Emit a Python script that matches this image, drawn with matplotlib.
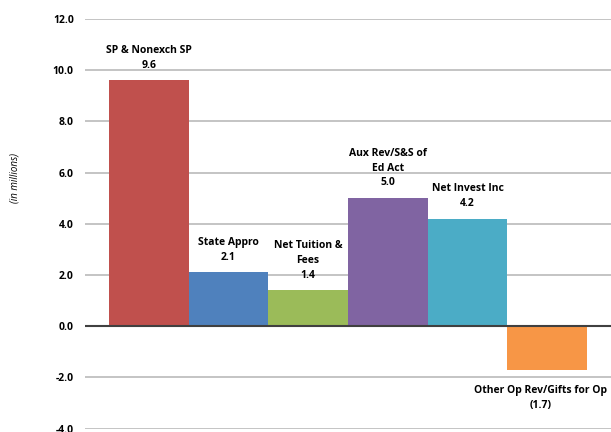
import matplotlib.pyplot as plt

categories = ["SP & Nonexch SP", "State Appro", "Net Tuition &\nFees",
              "Aux Rev/S&S of\nEd Act", "Net Invest Inc", "Other Op Rev/Gifts for Op"]
values = [9.6, 2.1, 1.4, 5.0, 4.2, -1.7]
value_labels = ["9.6", "2.1", "1.4", "5.0", "4.2", "(1.7)"]
colors = ["#C0504D", "#4F81BD", "#9BBB59", "#8064A2", "#4BACC6", "#F79646"]
yticks = [-4, -2, 0, 2, 4, 6, 8, 10, 12]

plt.rcParams['font.family'] = ['Open Sans', 'DejaVu Sans']

fig = plt.figure(figsize=(6.11, 4.32), dpi=100)
ax = fig.add_axes([0.139, 0.008, 0.861, 0.948])

x = range(len(values))
ax.bar(x, values, width=1.0, color=colors, zorder=3)

# gridlines and zero line
for t in yticks:
    if t == 0:
        ax.axhline(0, color="#404040", lw=1.5, zorder=4)
    else:
        ax.axhline(t, color="#BFBFBF", lw=1.3, zorder=1)

ax.set_xlim(-0.8, 5.8)
ax.set_ylim(-4, 12)
ax.set_yticks(yticks)
ax.set_yticklabels([f"{t:.1f}" for t in yticks], fontsize=7.5, fontweight="bold")
ax.tick_params(axis="y", length=0, pad=8)
ax.set_xticks([])
for s in ax.spines.values():
    s.set_visible(False)

# labels above positive bars, below the negative one
for i, (cat, v, lab) in enumerate(zip(categories, values, value_labels)):
    txt = cat + "\n" + lab
    if v >= 0:
        ax.annotate(txt, (i, v), xytext=(0, 7), textcoords="offset points",
                    ha="center", va="bottom", fontsize=7.5, fontweight="bold",
                    linespacing=1.45)
    else:
        # nudged left a little so the long label stays on the canvas
        ax.annotate(txt, (i, v), xytext=(-5, -11), textcoords="offset points",
                    ha="center", va="top", fontsize=7.5, fontweight="bold",
                    linespacing=1.45)

fig.text(0.025, 1 - 178 / 432, "(in millions)", rotation=90, style="italic",
         fontsize=7, ha="center", va="center")

fig.savefig("out.png", dpi=100)
